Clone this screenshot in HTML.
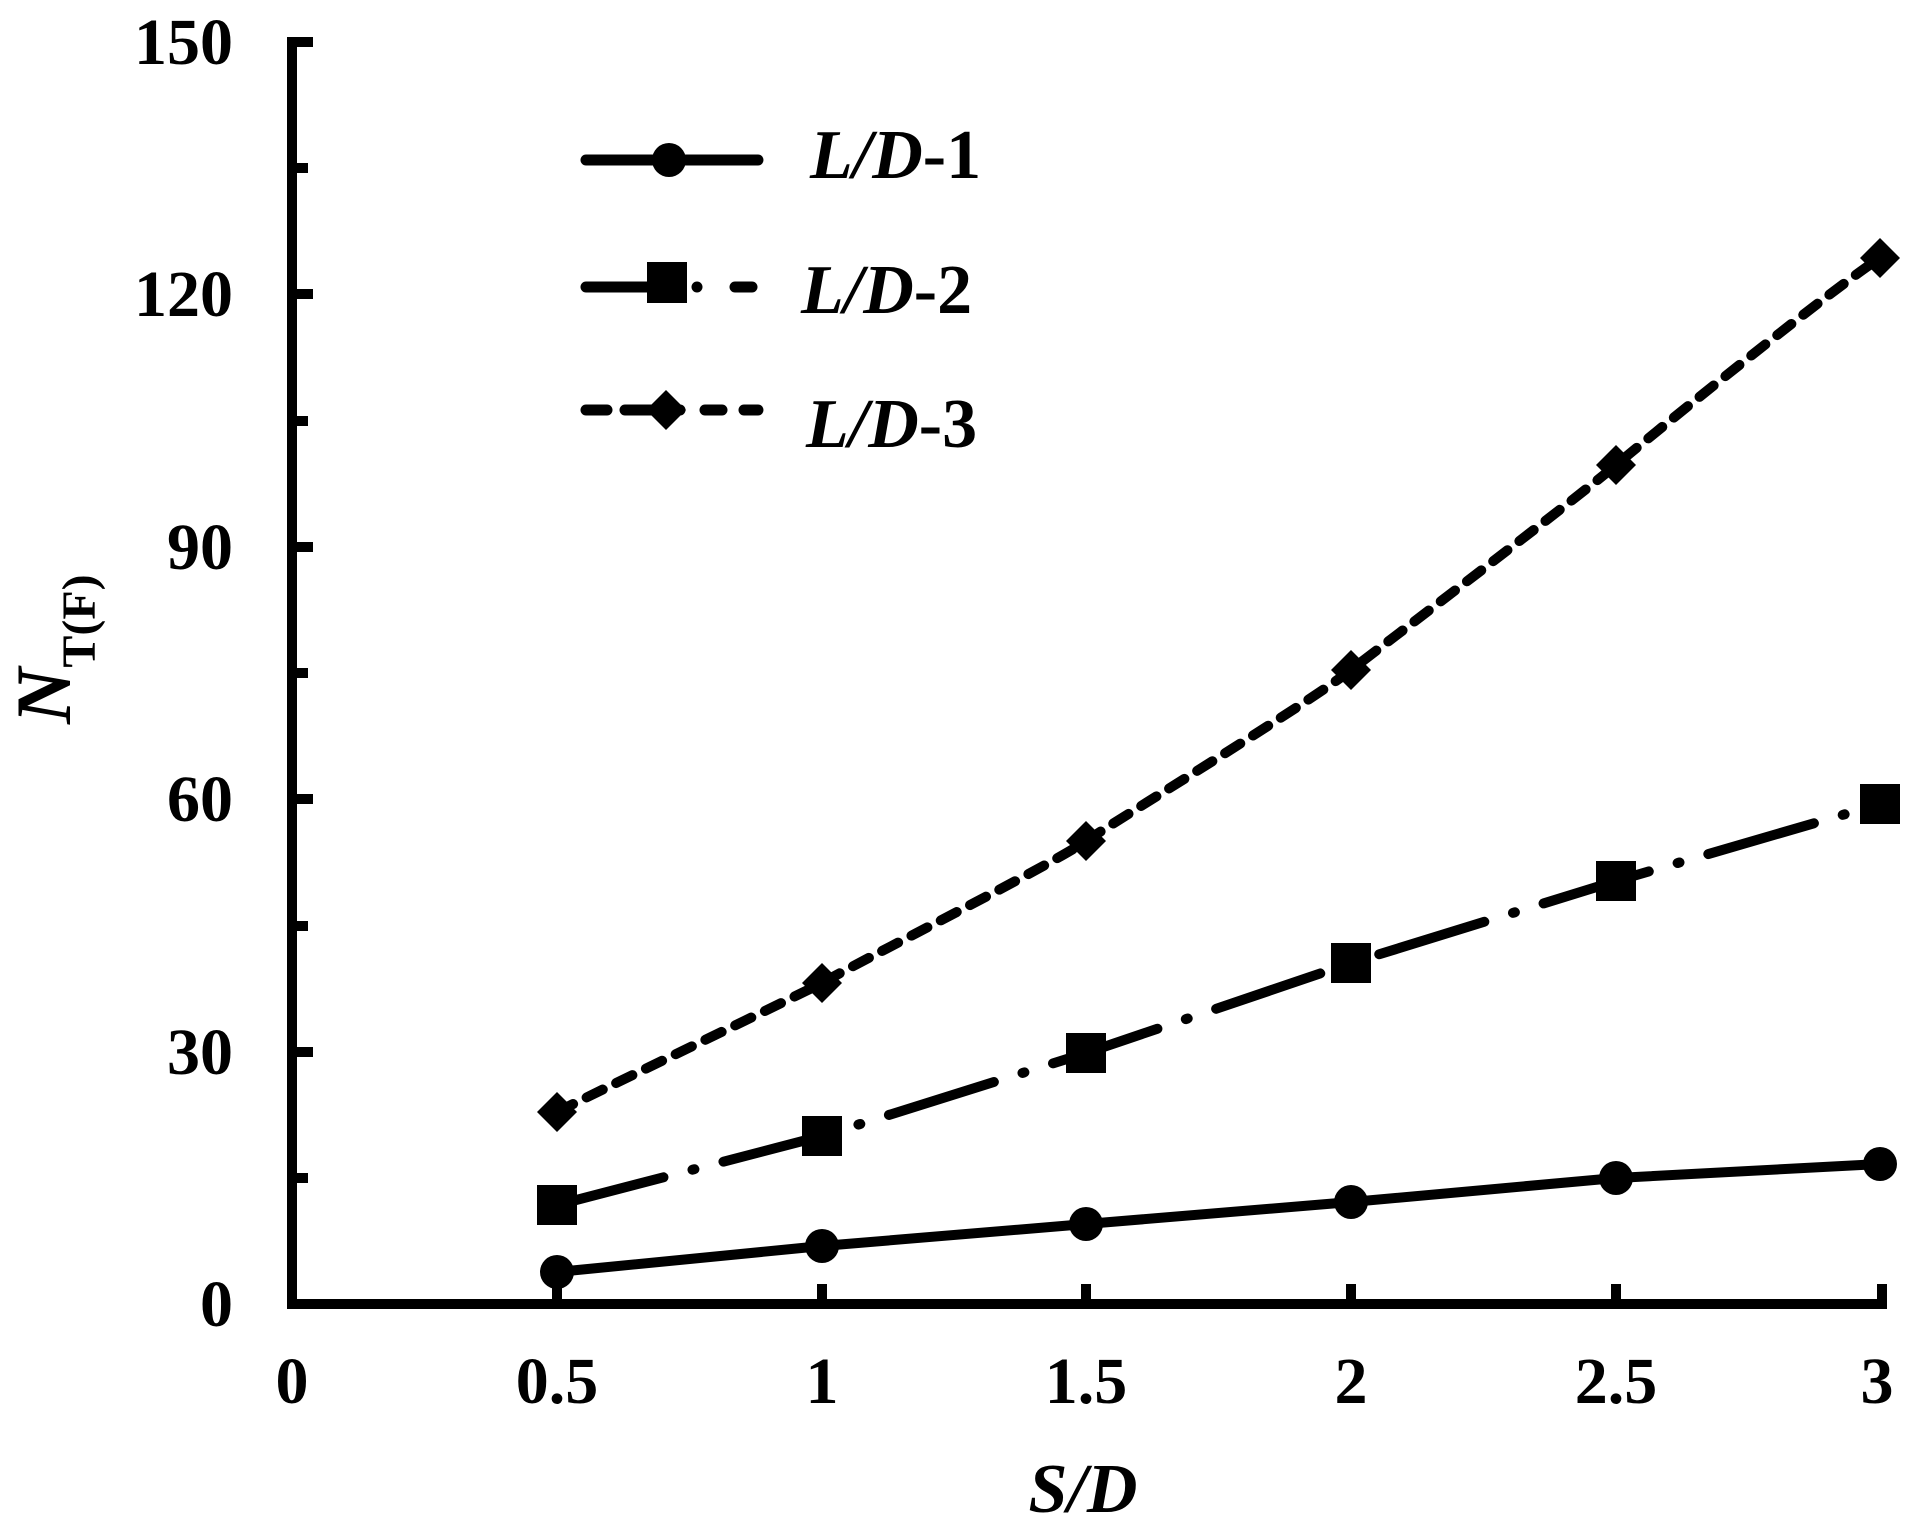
<!DOCTYPE html>
<html><head><meta charset="utf-8"><style>html,body{margin:0;padding:0;background:#fff}svg{display:block}text{font-family:"Liberation Serif","Times New Roman",serif;font-weight:bold}</style></head>
<body>
<svg width="1919" height="1520" viewBox="0 0 1919 1520" xmlns="http://www.w3.org/2000/svg">
<rect width="1919" height="1520" fill="#fff"/>
<g stroke="#000" stroke-width="10" fill="none">
<polyline points="313,42 292,42 292,1304 1882,1304 1882,1284"/>
<line x1="292" y1="168" x2="308" y2="168"/>
<line x1="292" y1="294" x2="313" y2="294"/>
<line x1="292" y1="421" x2="308" y2="421"/>
<line x1="292" y1="547" x2="313" y2="547"/>
<line x1="292" y1="673" x2="308" y2="673"/>
<line x1="292" y1="799" x2="313" y2="799"/>
<line x1="292" y1="926" x2="308" y2="926"/>
<line x1="292" y1="1052" x2="313" y2="1052"/>
<line x1="292" y1="1178" x2="308" y2="1178"/>
<line x1="557" y1="1304" x2="557" y2="1284"/>
<line x1="822" y1="1304" x2="822" y2="1284"/>
<line x1="1086" y1="1304" x2="1086" y2="1284"/>
<line x1="1351" y1="1304" x2="1351" y2="1284"/>
<line x1="1616" y1="1304" x2="1616" y2="1284"/>
</g>
<g font-size="66" text-anchor="end">
<text x="233" y="64">150</text>
<text x="233" y="316">120</text>
<text x="233" y="569">90</text>
<text x="233" y="821">60</text>
<text x="233" y="1074">30</text>
<text x="233" y="1326">0</text>
</g>
<g font-size="66" text-anchor="middle">
<text x="292" y="1403">0</text>
<text x="557" y="1403">0.5</text>
<text x="822" y="1403">1</text>
<text x="1086" y="1403">1.5</text>
<text x="1351" y="1403">2</text>
<text x="1616" y="1403">2.5</text>
<text x="1877" y="1403">3</text>
</g>
<text x="1083" y="1512" font-size="70" font-style="italic" text-anchor="middle">S/D</text>
<text transform="translate(70,724) rotate(-90)" font-size="78"><tspan font-style="italic">N</tspan><tspan font-size="48" dy="25">T(F)</tspan></text>
<g>
<polyline points="557,1272 822,1246 1086,1224 1351,1202 1616,1178 1880,1164" fill="none" stroke="#000" stroke-width="10"/>
<g fill="#000">
<circle cx="557" cy="1272" r="17"/><circle cx="822" cy="1246" r="17"/><circle cx="1086" cy="1224" r="17"/><circle cx="1351" cy="1202" r="17"/><circle cx="1616" cy="1178" r="17"/><circle cx="1880" cy="1164" r="17"/>
</g></g>
<g>
<polyline points="557,1205 822,1136 1086,1053 1351,963 1616,881 1880,804" fill="none" stroke="#000" stroke-width="10" stroke-dasharray="110 30 2 30" stroke-linecap="round"/>
<g fill="#000">
<rect x="537" y="1185" width="40" height="40"/><rect x="802" y="1116" width="40" height="40"/><rect x="1066" y="1033" width="40" height="40"/><rect x="1331" y="943" width="40" height="40"/><rect x="1596" y="861" width="40" height="40"/><rect x="1860" y="784" width="40" height="40"/>
</g></g>
<g>
<path d="M557,1112 C601,1090 778,1005 822,983 C866,958 1042,870 1086,841 C1130,812 1307,704 1351,670 C1395,636 1572,502 1616,465 C1660,428 1836,286 1880,258" fill="none" stroke="#000" stroke-width="10" stroke-dasharray="18 15" stroke-linecap="round"/>
<g fill="#000">
<polygon points="557,1092 577,1112 557,1132 537,1112"/><polygon points="822,963 842,983 822,1003 802,983"/><polygon points="1086,821 1106,841 1086,861 1066,841"/><polygon points="1351,650 1371,670 1351,690 1331,670"/><polygon points="1616,445 1636,465 1616,485 1596,465"/><polygon points="1880,238 1900,258 1880,278 1860,258"/>
</g></g>
<g stroke="#000" stroke-width="11" stroke-linecap="round" fill="none">
<line x1="586" y1="160" x2="758" y2="160"/>
<line x1="586" y1="287" x2="648" y2="287"/>
<line x1="735" y1="287" x2="752" y2="287"/>
<line x1="586" y1="410" x2="607" y2="410"/>
<line x1="625" y1="410" x2="680" y2="410"/>
<line x1="705" y1="410" x2="722" y2="410"/>
<line x1="744" y1="410" x2="758" y2="410"/>
</g>
<circle cx="669" cy="160" r="17" fill="#000"/>
<rect x="647" y="262" width="40" height="41" fill="#000"/>
<circle cx="697" cy="287" r="5.5" fill="#000"/>
<polygon points="666,390 686,410 666,430 646,410" fill="#000"/>
<g font-size="70" font-style="italic">
<text x="810" y="178">L/D<tspan font-style="normal">-1</tspan></text>
<text x="801" y="313">L/D<tspan font-style="normal">-2</tspan></text>
<text x="806" y="447">L/D<tspan font-style="normal">-3</tspan></text>
</g>
</svg>
</body></html>
